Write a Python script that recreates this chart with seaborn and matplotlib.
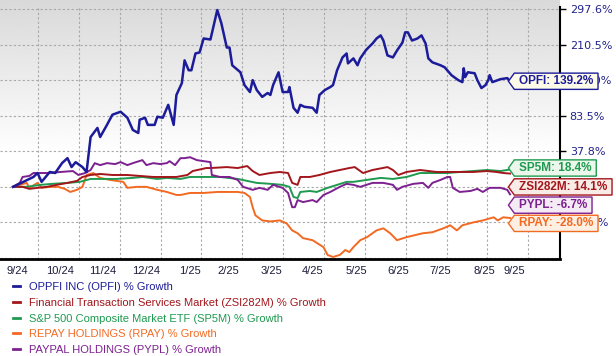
import numpy as np
import pandas as pd
import seaborn as sns
import matplotlib.pyplot as plt
from matplotlib.lines import Line2D
from matplotlib.path import Path

# % growth, x = days since the start (~9/20/24)
opfi_day = [0, 15, 18, 21, 27, 31, 36, 40, 43, 46, 51, 54, 57, 62, 64, 69, 73, 79, 84, 88,
            92, 93, 97, 99, 104, 106, 110, 114, 118, 120, 124, 126, 129, 131, 134, 137, 140,
            145, 150, 153, 157, 159, 161, 167, 170, 174, 176, 179, 183, 187, 189, 191, 195,
            198, 202, 203, 206, 209, 211, 214, 220, 223, 225, 229, 233, 235, 238, 242, 245,
            246, 250, 253, 255, 259, 261, 264, 267, 270, 272, 275, 279, 282, 286, 288, 290,
            293, 297, 300, 303, 305, 308, 314, 317, 322, 327, 330, 331, 332, 334, 339, 341,
            344, 347, 349, 350, 352, 358, 363, 365]
opfi_pct = [0, 10.5, 14.7, 5.3, 15.8, 14.7, 25.2, 30.5, 21.0, 26.2, 21.0, 15.8, 56.1, 67.8,
            56.1, 71.7, 85.1, 89.9, 80.9, 65.2, 61.3, 78.3, 80.9, 71.7, 71.7, 82.2, 80.9, 101.1,
            71.7, 117.0, 136.2, 179.6, 160.3, 160.3, 193.1, 195.1, 225.4, 222.9, 295.1, 262.8,
            204.7, 204.7, 170.0, 156.4, 133.0, 121.8, 141.0, 125.0, 113.9, 120.2, 117.0, 133.0,
            156.4, 121.8, 121.8, 129.8, 96.3, 88.3, 101.1, 97.9, 96.3, 88.3, 117.0, 125.0,
            129.8, 133.0, 160.3, 185.4, 193.1, 173.8, 183.5, 170.0, 183.5, 198.9, 204.7, 213.0,
            225.4, 232.9, 220.4, 189.3, 185.4, 198.9, 215.5, 240.4, 240.4, 220.4, 225.4, 232.9,
            213.0, 183.5, 175.8, 170.0, 166.1, 150.7, 141.0, 137.8, 164.2, 146.8, 156.4, 154.5,
            141.0, 128.2, 133.0, 141.0, 150.7, 137.8, 142.9, 144.9, 139.2]

zsi_day = [0, 7, 12, 18, 25, 32, 40, 47, 51, 57, 64, 73, 84, 93, 103, 113, 120, 128, 132,
           142, 145, 157, 165, 172, 176, 181, 189, 196, 202, 205, 209, 211, 218, 225, 233,
           240, 247, 251, 257, 264, 275, 279, 283, 289, 299, 311, 328, 338, 348, 355, 360, 365]
zsi_pct = [0, 0, -1.8, -0.9, 0, 2.1, 4.2, 6.3, 10.5, 12.6, 13.7, 12.6, 12.6, 11.6, 10.5, 10.5,
           10.5, 12.6, 16.8, 20.0, 20.0, 21.0, 20.0, 22.1, 16.8, 12.6, 14.7, 15.8, 14.7, 4.2,
           2.1, 10.5, 10.5, 12.6, 15.8, 17.9, 20.0, 21.0, 14.7, 17.9, 21.0, 17.9, 12.6, 15.8,
           17.9, 15.8, 15.8, 15.8, 16.8, 15.8, 14.7, 14.1]

sp5m_day = [0, 10, 20, 29, 40, 49, 57, 66, 76, 88, 95, 106, 113, 123, 130, 140, 152, 165, 172,
            179, 189, 198, 203, 206, 209, 211, 218, 223, 231, 238, 245, 250, 260, 270, 279,
            289, 299, 308, 319, 328, 338, 348, 358, 365]
sp5m_pct = [0, 0, 2.1, 3.2, 4.2, 5.3, 8.4, 8.4, 8.4, 9.5, 10.5, 8.4, 9.5, 8.4, 10.5, 10.5, 10.5,
            8.4, 6.3, 4.2, 3.2, 2.1, 0, -9.1, -10.1, -4.6, -3.7, -4.6, -0.9, 2.1, 5.3, 5.3, 7.4,
            9.5, 8.4, 10.5, 14.7, 14.7, 14.7, 15.8, 16.8, 17.9, 16.8, 18.4]

rpay_day = [0, 5, 10, 12, 18, 21, 27, 33, 38, 42, 47, 51, 54, 59, 64, 71, 81, 84, 91, 98, 106,
            113, 120, 123, 130, 140, 150, 165, 170, 174, 176, 178, 183, 189, 196, 201, 205,
            209, 213, 220, 228, 231, 235, 240, 244, 247, 250, 255, 260, 267, 272, 277, 282,
            289, 301, 308, 316, 321, 326, 330, 338, 345, 353, 356, 360, 365]
rpay_pct = [0, 2.1, 4.2, -0.9, 4.2, -0.9, 0, 0, -1.8, -4.6, -2.7, 0, 12.6, 14.7, 9.5, 7.4, 5.3,
            -0.9, 0, 0, -2.7, -4.6, -7.3, -7.3, -5.5, -5.5, -4.6, -4.6, -5.5, -9.1, -18.3,
            -25.6, -30.2, -31.1, -30.2, -32.6, -36.7, -38.4, -41.3, -42.5, -46.6, -51.2, -52.4,
            -51.2, -48.3, -49.5, -46.6, -42.5, -40.7, -36.7, -35.5, -38.4, -42.5, -40.7, -38.4,
            -37.8, -35.5, -33.7, -36.7, -33.7, -32.0, -30.2, -27.4, -30.2, -27.4, -28.0]

pypl_day = [0, 5, 7, 12, 15, 25, 35, 44, 48, 53, 57, 60, 64, 69, 75, 79, 84, 88, 95, 98, 103,
            108, 113, 115, 119, 123, 126, 130, 135, 140, 145, 146, 152, 159, 165, 169, 176,
            181, 187, 191, 198, 202, 205, 207, 209, 213, 220, 223, 228, 233, 240, 245, 250,
            255, 264, 272, 279, 282, 286, 294, 301, 305, 308, 314, 319, 321, 323, 328, 336,
            341, 345, 350, 358, 363, 365]
pypl_pct = [0, 4.2, 10.5, 11.6, 14.7, 14.7, 15.8, 16.8, 12.6, 14.7, 17.9, 25.2, 23.1, 25.2,
            24.2, 26.3, 23.1, 25.2, 28.4, 23.1, 25.2, 24.2, 25.2, 27.3, 23.1, 30.5, 30.5, 31.5,
            28.4, 27.3, 26.3, 12.6, 10.5, 10.5, 7.4, 0, -2.7, -0.9, -2.7, 2.1, -0.9, -5.5,
            -18.3, -18.3, -11.9, -13.7, -11.9, -13.7, -7.3, -4.6, 0, 3.2, 2.1, 0, 4.2, 4.2, 2.1,
            -2.7, 0, 3.2, 4.2, -0.9, 4.2, 7.4, 10.5, 10.5, -0.9, -4.6, -3.7, -1.8, -4.6, -0.9,
            -0.9, -2.7, -6.7]

tickers = ["OPFI", "ZSI282M", "SP5M", "RPAY", "PYPL"]
legend_names = ["OPPFI INC (OPFI) % Growth",
                "Financial Transaction Services Market (ZSI282M) % Growth",
                "S&P 500 Composite Market ETF (SP5M) % Growth",
                "REPAY HOLDINGS (RPAY) % Growth",
                "PAYPAL HOLDINGS (PYPL) % Growth"]
month_labels = ["9/24", "10/24", "11/24", "12/24", "1/25", "2/25", "3/25", "4/25",
                "5/25", "6/25", "7/25", "8/25", "9/25"]
month_days = [2.9, 34.5, 66.1, 97.7, 130, 157.9, 189.5, 220.3, 251.9, 282.7, 313.6, 345.9, 368]
grid_pct = [-53, -32, 0, 37.8, 83.5, 141.0, 210.5, 297.6]
ytick_pct = [297.6, 210.5, 141.0, 83.5, 37.8, 0.0, -32.0]

colors = {"OPFI": "#1c1c9a", "ZSI282M": "#a3161c", "SP5M": "#1f9a50",
          "RPAY": "#f26a22", "PYPL": "#7d2090"}
faces = {"OPFI": "#fdfbe8", "ZSI282M": "#f9ebe5", "SP5M": "#ecf7ec",
         "RPAY": "#fdf0e3", "PYPL": "#f4ebf5"}

frames = []
for name, d, p in [("OPFI", opfi_day, opfi_pct), ("ZSI282M", zsi_day, zsi_pct),
                   ("SP5M", sp5m_day, sp5m_pct), ("RPAY", rpay_day, rpay_pct),
                   ("PYPL", pypl_day, pypl_pct)]:
    frames.append(pd.DataFrame({"day": d, "pct": p, "series": name}))
df = pd.concat(frames, ignore_index=True)

# zacks-style stretched axis: gridlines evenly spaced
knot_v = np.array([-70] + grid_pct + [400.0])
knot_p = np.array([-17 / 21] + list(range(len(grid_pct))) + [7 + 102.4 / 87.1])


def fwd(v):
    return np.interp(v, knot_v, knot_p)


def inv(p):
    return np.interp(p, knot_p, knot_v)


def tag_box(x0, y0, width, height, mutation_size):
    px, py, tip = 0.4 * mutation_size, 0.18 * mutation_size, 0.5 * mutation_size
    left, right = x0 - px, x0 + width + px
    bottom, top = y0 - py, y0 + height + py
    mid = (bottom + top) / 2
    verts = [(left, bottom), (right, bottom), (right, top), (left, top),
             (left - tip, mid), (left, bottom)]
    return Path(verts, closed=True)


fig = plt.figure(figsize=(6.16, 3.56), dpi=100)

bg = fig.add_axes([0, 1 - 259 / 356, 560 / 616, 259 / 356], zorder=0)
grad = np.ones((200, 1))
grad[:120, 0] = np.linspace(0.85, 1.0, 120)
bg.imshow(grad, cmap="gray", vmin=0, vmax=1, aspect="auto", extent=[0, 1, 0, 1])
bg.axis("off")

ax = fig.add_axes([0, 1 - 259 / 356, 560 / 616, 252 / 356], zorder=1)
ax.patch.set_alpha(0)
ax.set_yscale("function", functions=(fwd, inv))
ax.set_xlim(-9.55, 401.7)
ax.set_ylim(-53.6, 302.5)

for v in grid_pct:
    ax.axhline(v, color="#a8a8a8", lw=0.8, ls=(0, (2, 2)), zorder=1)
for k in range(13):
    ax.axvline(18.4 + 30 * k, color="#a8a8a8", lw=0.8, ls=(0, (2, 2)), zorder=1)

for name in ["RPAY", "SP5M", "ZSI282M", "PYPL", "OPFI"]:
    sns.lineplot(data=df[df["series"] == name], x="day", y="pct", color=colors[name],
                 estimator=None, sort=False, lw=1.8 if name == "OPFI" else 1.4, ax=ax, zorder=3)

ax.set_xlabel("")
ax.set_ylabel("")
ax.set_xticks(month_days, month_labels)
ax.set_yticks(ytick_pct, [f"{v:.1f}%" for v in ytick_pct])
ax.yaxis.tick_right()
ax.tick_params(axis="y", length=4, width=1, color="black", pad=3, labelsize=8,
               labelcolor="#22228c")
ax.tick_params(axis="x", length=0, pad=5, labelsize=8, labelcolor="#1c1c3c")
for t in ax.get_yticklabels():
    t.set_family("DejaVu Sans")
for t in ax.get_xticklabels():
    t.set_family("Liberation Sans")
ax.spines["left"].set_visible(False)
ax.spines["top"].set_visible(False)
ax.spines["bottom"].set_linewidth(2)
ax.spines["right"].set_linewidth(1.5)
ax.minorticks_off()

ends = {"OPFI": (opfi_day[-1], opfi_pct[-1]), "SP5M": (sp5m_day[-1], sp5m_pct[-1]),
        "ZSI282M": (zsi_day[-1], zsi_pct[-1]), "PYPL": (pypl_day[-1], pypl_pct[-1]),
        "RPAY": (rpay_day[-1], rpay_pct[-1])}
shift = {"OPFI": 0, "SP5M": 1.1, "ZSI282M": -9.6, "PYPL": -7.8, "RPAY": -3.9}
for name in ["OPFI", "SP5M", "ZSI282M", "PYPL", "RPAY"]:
    d, v = ends[name]
    ax.annotate(f"{name}: {v:.1f}%", xy=(d, v), xytext=(6.5, shift[name]),
                textcoords="offset points", ha="left", va="center", color=colors[name],
                fontsize=8.5, fontweight="bold", family="Liberation Sans",
                bbox=dict(boxstyle=tag_box, fc=faces[name], ec=colors[name], lw=1),
                zorder=6, annotation_clip=False)

handles = [Line2D([], [], color=colors[n], lw=2) for n in tickers]
fig.legend(handles, legend_names, loc="upper left", bbox_to_anchor=(13 / 616, 1 - 282 / 356),
           frameon=False, handlelength=0.6, handletextpad=0.8, labelspacing=0.52,
           borderpad=0, borderaxespad=0, labelcolor=[colors[n] for n in tickers],
           prop={"family": "Liberation Sans", "size": 8})

fig.savefig("out.png", dpi=100)
